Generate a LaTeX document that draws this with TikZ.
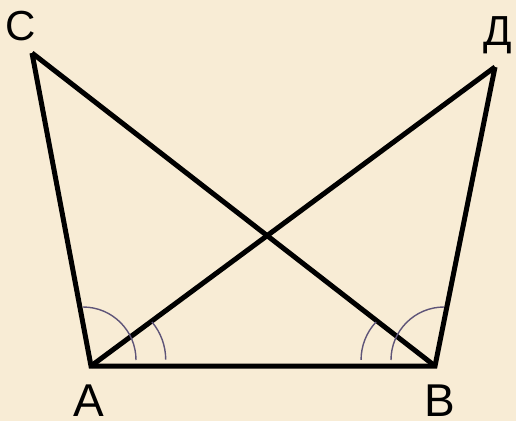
\documentclass[tikz,border=0pt]{standalone}
\usepackage{fontspec}
\setmainfont{Liberation Sans}
\usetikzlibrary{positioning}
\definecolor{paper}{HTML}{F8ECD5}
\definecolor{arcgray}{HTML}{5E5478}
\tikzset{
  side/.style={line width=5pt, line join=miter, black},
  anglearc/.style={line width=1.4pt, draw=arcgray},
  vlabel/.style={font=\fontsize{42}{50}\selectfont, inner sep=0pt},
  baselabel/.style={vlabel, font=\fontsize{46}{54}\selectfont}
}

\begin{document}
\begin{tikzpicture}[x=1pt, y=-1pt]
% background
\fill[paper] (0,0) rectangle (516,421);
% vertices
\coordinate (C) at (32,53);
\coordinate (D) at (495,67);
\coordinate (A) at (91,366);
\coordinate (B) at (435,366);
% sides
\draw[side] (C) -- (A) -- (B) -- (D);
\draw[side] (A) -- (D);
\draw[side] (B) -- (C);
% angle marks
\draw[anglearc] (83,307) arc[start angle=-90, end angle=0, radius=53];
\draw[anglearc] (152,322) arc[start angle=-40, end angle=0, radius=58.6];
\draw[anglearc] (444,307) arc[start angle=-90, end angle=-180, radius=53];
\draw[anglearc] (376,322) arc[start angle=-137, end angle=-180, radius=55.6];
% labels
\node[vlabel, anchor=base] (lC) at (21,40) {С};
\node[vlabel, anchor=base] (lD) at (498,45) {Д};
\node[baselabel, anchor=base] (lA) at (89,416) {А};
\node[baselabel, anchor=base] (lB) at (440,416) {В};
\end{tikzpicture}
\end{document}
